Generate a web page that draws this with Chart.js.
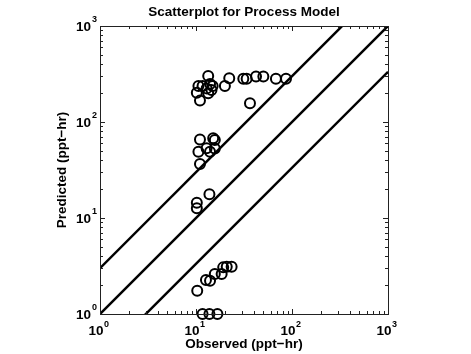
<!DOCTYPE html>
<html>
<head>
<meta charset="utf-8">
<script src="https://cdn.jsdelivr.net/npm/chart.js@4.4.1/dist/chart.umd.min.js"></script>
<style>
  html, body { margin: 0; padding: 0; background: #fff; }
  #wrap { width: 471px; height: 354px; }
</style>
</head>
<body>
<div id="wrap"><canvas id="chart" width="471" height="354"></canvas></div>
<script>
// observed vs predicted (ppt-hr)
const observed = [13.4, 22.2, 31.1, 33.7, 42.2, 50.3, 68, 86.6, 20, 36.5,
  10.6, 11.7, 14, 14.9, 10.2, 11, 13.4, 12.9, 14.5,
  11, 15.1, 15.7, 10.6, 12.9, 14, 15.7, 11,
  13.8, 10.2, 10.2,
  10.3, 12.7, 14, 15.7, 18.5, 19.2, 20.9, 23.5,
  11.7, 13.8, 16.7];
const predicted = [301, 285, 282, 282, 297, 297, 282, 282, 237, 157,
  237, 237, 249, 237, 202, 167, 199, 224, 215,
  65.9, 67.6, 65, 49, 53.2, 49, 53, 36.5,
  17.7, 14.4, 12.6,
  1.75, 2.26, 2.22, 2.61, 2.61, 3.06, 3.1, 3.1,
  1, 1, 1];

// reference lines: y = x, y = 3x, y = x/3
const lineX = [1, 1000];
const factors = [1, 3, 1 / 3];

const decades = [1, 10, 100, 1000];
const exponents = ['0', '1', '2', '3'];
const minorSteps = [2, 3, 4, 5, 6, 7, 8, 9];

const points = observed.map((x, i) => ({ x: x, y: predicted[i] }));

const lineSets = factors.map(f => ({
  type: 'line',
  data: lineX.map(x => ({ x: x, y: x * f })),
  borderColor: '#000',
  borderWidth: 2.5,
  pointRadius: 0,
  fill: false,
  clip: 0
}));

const font = 'bold 13.5px "Liberation Sans", Arial, Helvetica, sans-serif';
const supFont = 'bold 9px "Liberation Sans", Arial, Helvetica, sans-serif';

const axesPlugin = {
  id: 'matlabAxes',
  afterDraw(chart) {
    const ctx = chart.ctx;
    const a = chart.chartArea;
    const xs = chart.scales.x;
    const ys = chart.scales.y;
    ctx.save();

    // box
    ctx.strokeStyle = '#222';
    ctx.lineWidth = 1;
    ctx.strokeRect(a.left + 0.5, a.top + 0.5, a.right - a.left, a.bottom - a.top);

    // ticks (inward)
    const tick = (v, len) => {
      const px = Math.round(xs.getPixelForValue(v)) + 0.5;
      const py = Math.round(ys.getPixelForValue(v)) + 0.5;
      ctx.beginPath();
      ctx.moveTo(px, a.bottom); ctx.lineTo(px, a.bottom - len);
      ctx.moveTo(px, a.top); ctx.lineTo(px, a.top + len);
      ctx.moveTo(a.left, py); ctx.lineTo(a.left + len, py);
      ctx.moveTo(a.right, py); ctx.lineTo(a.right - len, py);
      ctx.stroke();
    };
    decades.forEach((d, i) => {
      tick(d, 5);
      if (i < decades.length - 1) minorSteps.forEach(m => tick(d * m, 3));
    });

    // tick labels 10^n
    ctx.fillStyle = '#000';
    ctx.textBaseline = 'alphabetic';
    decades.forEach((d, i) => {
      const px = xs.getPixelForValue(d);
      ctx.font = font;
      ctx.textAlign = 'center';
      ctx.fillText('10', px - 4, a.bottom + 21);
      ctx.font = supFont;
      ctx.textAlign = 'left';
      ctx.fillText(exponents[i], px + 4, a.bottom + 13);

      const py = ys.getPixelForValue(d);
      ctx.font = font;
      ctx.textAlign = 'right';
      ctx.fillText('10', a.left - 9, py + 5);
      ctx.font = supFont;
      ctx.textAlign = 'left';
      ctx.fillText(exponents[i], a.left - 8, py - 4);
    });

    // titles
    ctx.font = font;
    ctx.textAlign = 'center';
    ctx.fillText('Scatterplot for Process Model', (a.left + a.right) / 2, 16);
    ctx.fillText('Observed (ppt\u2212hr)', (a.left + a.right) / 2, a.bottom + 34);
    ctx.save();
    ctx.translate(66, (a.top + a.bottom) / 2);
    ctx.rotate(-Math.PI / 2);
    ctx.fillText('Predicted (ppt\u2212hr)', 0, 0);
    ctx.restore();

    ctx.restore();
  }
};

new Chart(document.getElementById('chart'), {
  type: 'scatter',
  data: {
    datasets: [{
      data: points,
      pointStyle: 'circle',
      pointRadius: 5,
      pointBorderWidth: 2,
      borderColor: '#000',
      backgroundColor: 'rgba(0,0,0,0)',
      clip: false
    }].concat(lineSets)
  },
  options: {
    responsive: false,
    animation: false,
    events: [],
    layout: { padding: { left: 100, top: 26, right: 83, bottom: 40 } },
    plugins: { legend: { display: false }, tooltip: { enabled: false } },
    scales: {
      x: { type: 'logarithmic', min: 1, max: 1000, display: false },
      y: { type: 'logarithmic', min: 1, max: 1000, display: false }
    }
  },
  plugins: [axesPlugin]
});
</script>
</body>
</html>
